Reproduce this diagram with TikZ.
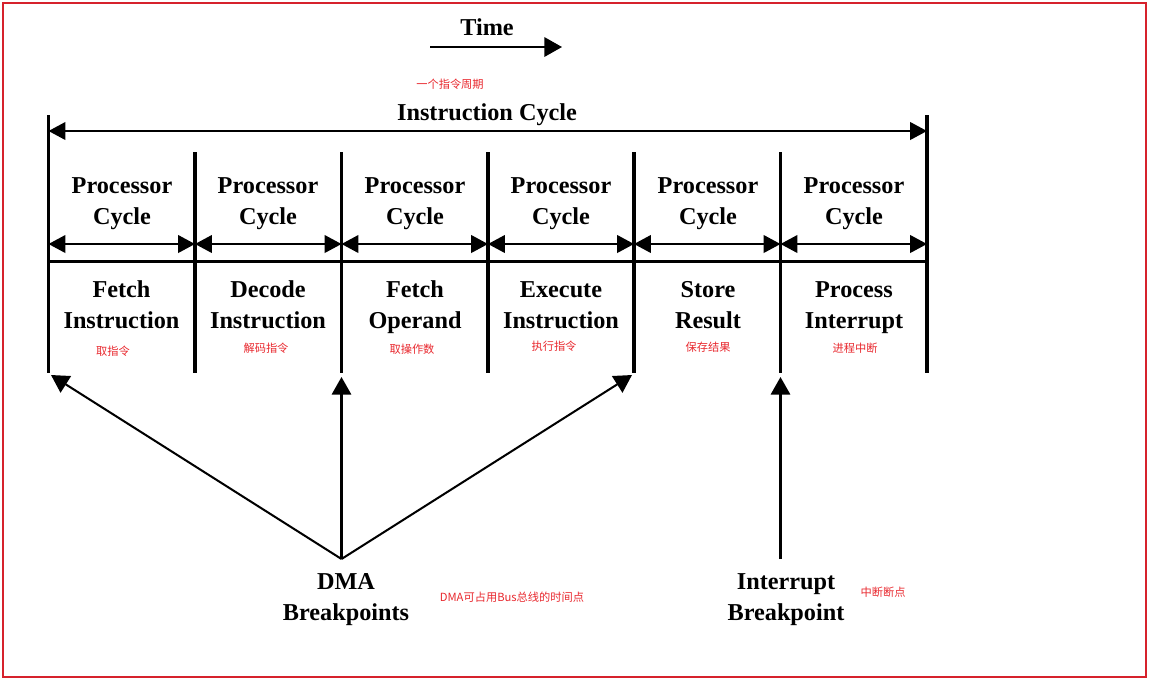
\documentclass[tikz,border=0pt]{standalone}
\usepackage{fontspec}
\setmainfont{Liberation Serif}
\newfontfamily\cjk{Noto Sans CJK SC}
\usetikzlibrary{arrows.meta,positioning}
\definecolor{notered}{RGB}{232,40,46}
\definecolor{framered}{RGB}{214,34,44}
\tikzset{
	label text/.style={font=\bfseries\fontsize{13.8}{17.2}\selectfont, align=center, inner sep=0pt, anchor=base},
	note text/.style={font=\cjk\fontsize{6.4}{8}\selectfont, text=notered, inner sep=0pt},
	bar/.style={line width=2pt},
	base line/.style={line width=1.7pt},
	span arrow/.style={line width=1.15pt, {Triangle[length=9.6pt,width=10pt]}-{Triangle[length=9.6pt,width=10pt]}},
	point arrow/.style={line width=1.15pt, -{Triangle[length=10pt,width=11pt]}},
	frame/.style={draw=framered, line width=0.8pt}
}
\begin{document}
\begin{tikzpicture}[x=0.02cm, y=-0.02cm]
	\useasboundingbox (0,0) rectangle (1150,681);
	\draw [frame] (3,3) rectangle (1146,677);
	% time direction
	\node [label text] (time) at (487,35) {Time};
	\coordinate (timestart) at (430,47);
	\coordinate (timeend) at (562,47);
	\draw [point arrow] (timestart) -- (timeend);
	\node [note text] (cyclenote) at (450,84) {一个指令周期};
	\node [label text] (instr_cycle) at (487,120) {Instruction Cycle};
	% levels
	\coordinate (ic) at (0,131);
	\coordinate (cyc) at (0,244);
	\coordinate (base) at (0,261);
	\coordinate (bot) at (0,373);
	% bar tops
	\coordinate (t0) at (48.5,115);
	\coordinate (t1) at (195,152);
	\coordinate (t2) at (341.5,152);
	\coordinate (t3) at (488,152);
	\coordinate (t4) at (634,152);
	\coordinate (t5) at (780.5,152);
	\coordinate (t6) at (927,115);
	\draw [bar] (t0) -- (t0 |- bot);
	\draw [bar] (t1) -- (t1 |- bot);
	\draw [bar] (t2) -- (t2 |- bot);
	\draw [bar] (t3) -- (t3 |- bot);
	\draw [bar] (t4) -- (t4 |- bot);
	\draw [bar] (t5) -- (t5 |- bot);
	\draw [bar] (t6) -- (t6 |- bot);
	\draw [base line] (t0 |- base) -- (t6 |- base);
	\draw [span arrow] (t0 |- ic) -- (t6 |- ic);
	\draw [span arrow] (t0 |- cyc) -- (t1 |- cyc);
	\draw [span arrow] (t1 |- cyc) -- (t2 |- cyc);
	\draw [span arrow] (t2 |- cyc) -- (t3 |- cyc);
	\draw [span arrow] (t3 |- cyc) -- (t4 |- cyc);
	\draw [span arrow] (t4 |- cyc) -- (t5 |- cyc);
	\draw [span arrow] (t5 |- cyc) -- (t6 |- cyc);
	% processor cycles
	\node [label text] (pc1) at (122,224) {Processor\\Cycle};
	\node [label text] (pc2) at (268,224) {Processor\\Cycle};
	\node [label text] (pc3) at (415,224) {Processor\\Cycle};
	\node [label text] (pc4) at (561,224) {Processor\\Cycle};
	\node [label text] (pc5) at (708,224) {Processor\\Cycle};
	\node [label text] (pc6) at (854,224) {Processor\\Cycle};
	% stages
	\node [label text] (fetch_node) at (121.5,328) {Fetch\\Instruction};
	\node [label text] (decode_node) at (268,328) {Decode\\Instruction};
	\node [label text] (operand_node) at (415,328) {Fetch\\Operand};
	\node [label text] (execute_node) at (561,328) {Execute\\Instruction};
	\node [label text] (store_node) at (708,328) {Store\\Result};
	\node [label text] (interrupt_node) at (854,328) {Process\\Interrupt};
	\node [note text] (fetch_note) at (113,351) {取指令};
	\node [note text] (decode_note) at (266,348) {解码指令};
	\node [note text] (operand_note) at (412,349) {取操作数};
	\node [note text] (execute_note) at (554,346) {执行指令};
	\node [note text] (store_note) at (708,347) {保存结果};
	\node [note text] (interrupt_note) at (855,348) {进程中断};
	% breakpoints
	\node [label text] (dma_node) at (346,620) {DMA\\Breakpoints};
	\node [note text] (dma_note) at (512,597) {DMA可占用Bus总线的时间点};
	\node [label text] (intr_node) at (786,620) {Interrupt\\Breakpoint};
	\node [note text] (intr_note) at (883,592) {中断断点};
	\coordinate (dma_apex) at (341.5,559);
	\coordinate (dma_left) at (51,375);
	\coordinate (dma_mid) at (341.5,377);
	\coordinate (dma_right) at (632,375);
	\coordinate (intr_foot) at (780.5,559);
	\coordinate (intr_tip) at (780.5,377);
	\draw [point arrow] (dma_apex) -- (dma_left);
	\draw [point arrow] (dma_apex) -- (dma_mid);
	\draw [point arrow] (dma_apex) -- (dma_right);
	\draw [point arrow] (intr_foot) -- (intr_tip);
\end{tikzpicture}
\end{document}
